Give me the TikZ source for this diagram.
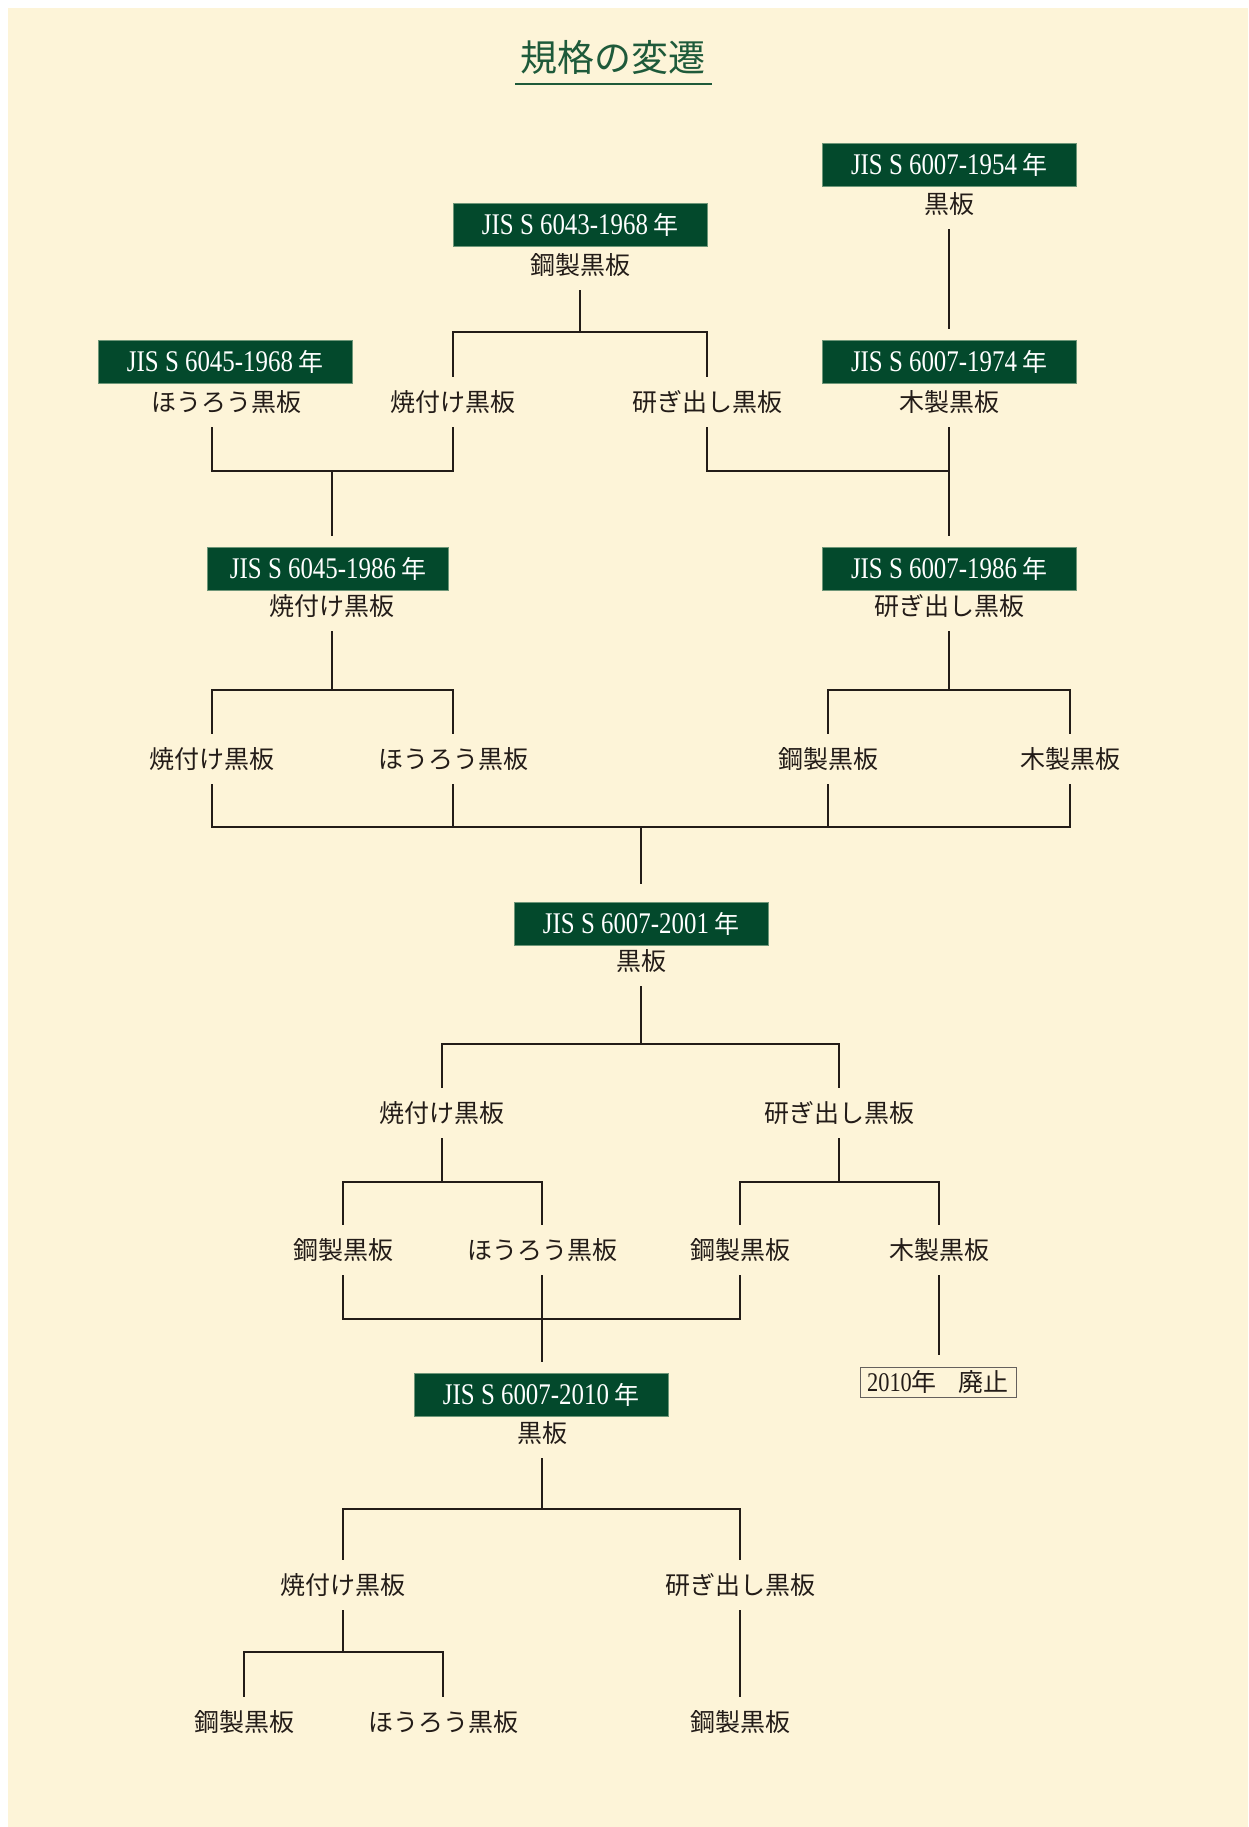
\documentclass[tikz,border=0pt]{standalone}
\usepackage{fontspec}
\setmainfont{Liberation Serif}
\newfontfamily\cjk{Noto Sans CJK JP}
\newfontfamily\jisf{Liberation Serif}[FakeStretch=0.83]
\definecolor{paper}{RGB}{253,244,216}
\definecolor{boxgreen}{RGB}{3,73,44}
\definecolor{boxedge}{RGB}{110,150,120}
\definecolor{titlegreen}{RGB}{30,90,58}
\definecolor{ink}{RGB}{35,28,24}
\newcommand\jisyear{{\cjk\fontsize{25}{25}\selectfont 年}}
\tikzset{
  jisbox/.style={fill=boxgreen, draw=boxedge, line width=0.8pt, text=white,
    minimum width=254pt, minimum height=43pt, inner sep=0pt,
    font=\jisf\fontsize{30}{30}\selectfont},
  lbl/.style={text=ink, minimum height=50pt, inner sep=0pt,
    font=\cjk\fontsize{25}{25}\selectfont},
  link/.style={draw=ink, line width=2pt},
  endbox/.style={draw=ink!70, line width=1pt, fill=paper, text=ink,
    minimum width=156pt, minimum height=30pt, inner sep=0pt,
    font=\jisf\fontsize{27}{27}\selectfont}
}
\begin{document}
\begin{tikzpicture}[x=1pt,y=-1pt]
\useasboundingbox (0,0) rectangle (1248,1827);
\fill[white] (0,0) rectangle (1248,1827);
\fill[paper] (8,8) rectangle (1248,1827);

% title
\node[text=titlegreen, font=\cjk\fontsize{37}{37}\selectfont, inner sep=0pt] (title) at (613,57) {規格の変遷};
\draw[titlegreen, line width=1.5pt] (515,84) -- (712,84);

% standard boxes
\node[jisbox] (B1954) at (949,165) {JIS S 6007-1954\,\jisyear};
\node[jisbox] (B6043) at (580,225) {JIS S 6043-1968\,\jisyear};
\node[jisbox] (B6045a) at (225,362) {JIS S 6045-1968\,\jisyear};
\node[jisbox] (B1974) at (949,362) {JIS S 6007-1974\,\jisyear};
\node[jisbox, minimum width=241pt] (B6045b) at (328,569) {JIS S 6045-1986\,\jisyear};
\node[jisbox] (B1986) at (949,569) {JIS S 6007-1986\,\jisyear};
\node[jisbox] (B2001) at (641,924) {JIS S 6007-2001\,\jisyear};
\node[jisbox] (B2010) at (541,1395) {JIS S 6007-2010\,\jisyear};

% kinds
\node[lbl] (L1954) at (949,204) {黒板};
\node[lbl] (L6043) at (580,265) {鋼製黒板};
\node[lbl] (L6045a) at (226,402) {ほうろう黒板};
\node[lbl] (Lyaki1) at (453,402) {焼付け黒板};
\node[lbl] (Ltogi1) at (707,402) {研ぎ出し黒板};
\node[lbl] (L1974) at (949,402) {木製黒板};
\node[lbl] (L6045b) at (332,606) {焼付け黒板};
\node[lbl] (L1986) at (949,606) {研ぎ出し黒板};
\node[lbl] (Lyaki2) at (212,759) {焼付け黒板};
\node[lbl] (Lhoro2) at (453,759) {ほうろう黒板};
\node[lbl] (Lkou2) at (828,759) {鋼製黒板};
\node[lbl] (Lmoku2) at (1070,759) {木製黒板};
\node[lbl] (L2001) at (641,961) {黒板};
\node[lbl] (Lyaki3) at (442,1113) {焼付け黒板};
\node[lbl] (Ltogi3) at (839,1113) {研ぎ出し黒板};
\node[lbl] (Lkou3) at (343,1250) {鋼製黒板};
\node[lbl] (Lhoro3) at (542,1250) {ほうろう黒板};
\node[lbl] (Lkou3b) at (740,1250) {鋼製黒板};
\node[lbl] (Lmoku3) at (939,1250) {木製黒板};
\node[lbl] (L2010) at (542,1433) {黒板};
\node[lbl] (Lyaki4) at (343,1585) {焼付け黒板};
\node[lbl] (Ltogi4) at (740,1585) {研ぎ出し黒板};
\node[lbl] (Lkou4) at (244,1722) {鋼製黒板};
\node[lbl] (Lhoro4) at (443,1722) {ほうろう黒板};
\node[lbl] (Lkou4b) at (740,1722) {鋼製黒板};

\node[endbox] (Haishi) at (938,1382) {2010\jisyear\hspace{22pt}{\cjk\fontsize{25}{25}\selectfont 廃止}};

% junctions
\coordinate (j1) at (580,332);
\coordinate (j2) at (332,471);
\coordinate (j3) at (949,471);
\coordinate (j4) at (332,690);
\coordinate (j5) at (949,690);
\coordinate (j6) at (641,827);
\coordinate (j7) at (641,1044);
\coordinate (j8) at (442,1182);
\coordinate (j9) at (839,1182);
\coordinate (j10) at (542,1319);
\coordinate (j11) at (542,1509);
\coordinate (j12) at (343,1652);

% connectors
\draw[link, shorten >=11pt] (L1954.south) -- (B1974.north);
\draw[link] (L6043.south) -- (j1);
\draw[link] (Lyaki1.north) |- (j1) -| (Ltogi1.north);
\draw[link] ([xshift=-14pt]L6045a.south) |- (j2) -| (Lyaki1.south);
\draw[link, shorten >=11pt] (j2) -- (j2 |- B6045b.north);
\draw[link] (Ltogi1.south) |- (j3);
\draw[link, shorten >=11pt] (L1974.south) -- (B1986.north);
\draw[link] (L6045b.south) -- (j4);
\draw[link] (Lyaki2.north) |- (j4) -| (Lhoro2.north);
\draw[link] (L1986.south) -- (j5);
\draw[link] (Lkou2.north) |- (j5) -| (Lmoku2.north);
\draw[link] (Lyaki2.south) |- (Lmoku2.south |- j6) -- (Lmoku2.south);
\draw[link] (Lhoro2.south) -- (Lhoro2.south |- j6);
\draw[link] (Lkou2.south) -- (Lkou2.south |- j6);
\draw[link, shorten >=18pt] (j6) -- (B2001.north);
\draw[link] (L2001.south) -- (j7);
\draw[link] (Lyaki3.north) |- (j7) -| (Ltogi3.north);
\draw[link] (Lyaki3.south) -- (j8);
\draw[link] (Lkou3.north) |- (j8) -| (Lhoro3.north);
\draw[link] (Ltogi3.south) -- (j9);
\draw[link] (Lkou3b.north) |- (j9) -| (Lmoku3.north);
\draw[link] (Lkou3.south) |- (j10) -| (Lkou3b.south);
\draw[link, shorten >=11pt] (Lhoro3.south) -- (Lhoro3.south |- B2010.north);
\draw[link, shorten >=12pt] (Lmoku3.south) -- (Lmoku3.south |- Haishi.north);
\draw[link] (L2010.south) -- (j11);
\draw[link] (Lyaki4.north) |- (j11) -| (Ltogi4.north);
\draw[link] (Lyaki4.south) -- (j12);
\draw[link] (Lkou4.north) |- (j12) -| (Lhoro4.north);
\draw[link] (Ltogi4.south) -- (Lkou4b.north);
\end{tikzpicture}
\end{document}
